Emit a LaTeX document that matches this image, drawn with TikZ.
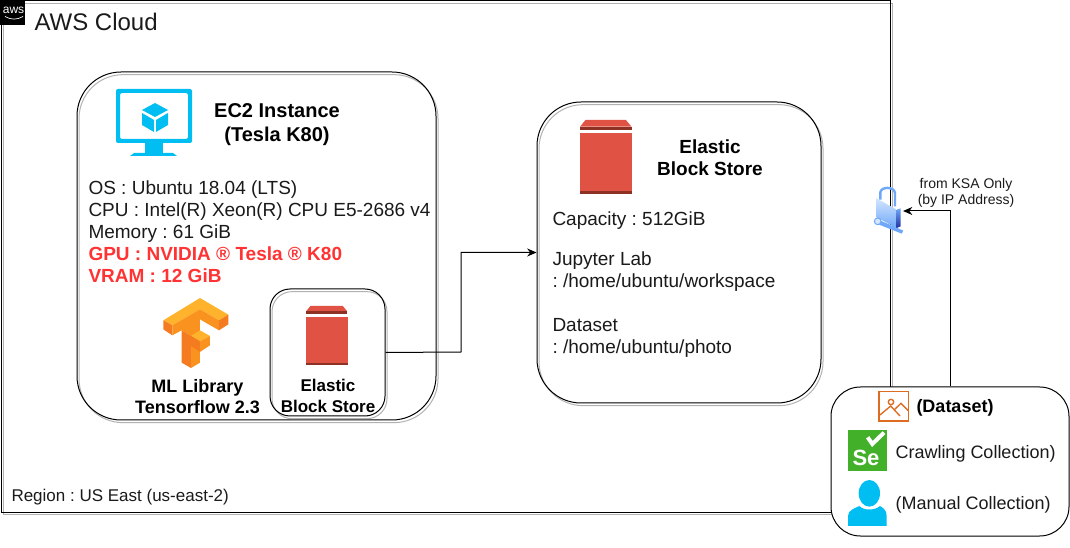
\documentclass[tikz,border=0pt]{standalone}
\usepackage{fontspec}
\setmainfont{Liberation Sans}
\usetikzlibrary{shadows,arrows.meta}
\frenchspacing

\definecolor{azureblue}{HTML}{00BEF2}
\definecolor{ebsred}{HTML}{E05243}
\definecolor{ebsdark}{HTML}{8C3123}
\definecolor{alertred}{HTML}{FF3333}
\definecolor{tflight}{HTML}{FFB32C}
\definecolor{tfmid}{HTML}{F9921F}
\definecolor{tfdark}{HTML}{F47B20}
\definecolor{segreen}{HTML}{43B02A}
\definecolor{imgorange}{HTML}{DD6B20}
\definecolor{textgray}{HTML}{1A1A1A}
\definecolor{locklight}{HTML}{D4E6FF}
\definecolor{lockmid}{HTML}{6FA8F8}
\definecolor{lockdark}{HTML}{2030A0}

\tikzset{every picture/.style={line width=0.75pt}}
\tikzset{
	panel/.style={draw=black, rounded corners=#1, copy shadow={shadow xshift=1.5pt, shadow yshift=-2pt, draw=black!30, fill=none}},
	panel/.default=33pt,
	spec/.style={anchor=west, align=left, text=textgray, font=\fontsize{14.25}{16.5}\selectfont},
	head/.style={align=center, font=\bfseries\fontsize{14.25}{16.5}\selectfont},
	conn/.style={draw=black, -{Stealth[length=7pt,width=6pt]}}
}
\newcommand{\ebsicon}[2]{%
	\begin{scope}[shift={(#1)},scale=#2]
		\fill [ebsred] (0,6.7) -- (5.5,0) -- (46,0) -- (51.5,6.7) -- cycle;
		\fill [ebsdark] (0,6.7) rectangle (51.5,10);
		\fill [ebsred] (-0.5,13.3) rectangle (52,70.7);
		\fill [ebsdark] (-0.5,70.7) rectangle (52,74);
	\end{scope}}

\begin{document}
\begin{tikzpicture}[x=0.75pt,y=0.75pt,yscale=-1,xscale=1]
	\useasboundingbox (0,0) rectangle (1070,548);

	% Boxes
	\node (cloud) [panel=0pt, minimum width=666.75pt, minimum height=383.25pt] at (445.5,256.5) {};
	\node (ec2box) [panel, minimum width=269.25pt, minimum height=261pt] at (256.5,246) {};
	\node (mainstore) [panel, minimum width=213pt, minimum height=225.75pt] at (679,252.5) {};
	\node (smallstore) [panel=15pt, minimum width=86.25pt, minimum height=95.25pt] at (327.5,352.5) {};
	\node (dataset) [draw=black, fill=white, rounded corners=22pt, minimum width=178.5pt, minimum height=111.75pt] at (950,461.5) {};

	% AWS badge
	\fill [black] (0,0) rectangle (25,25);
	\node (awstag) [text=white, inner sep=0pt, font=\fontsize{9}{9}\selectfont] at (13.5,10) {aws};
	\draw [white, line width=0.5pt] (5,16.5) .. controls (11,20) and (17,20) .. (23,16.5);

	% Monitor
	\fill [azureblue, rounded corners=1.5pt, even odd rule] (116,89) rectangle (192,143) (120,93) rectangle (188,139);
	\fill [azureblue] (145,143) rectangle (163,153);
	\fill [azureblue] (130,156) -- (134,153) -- (173,153) -- (177,156) -- cycle;
	\fill [azureblue] (155,103) -- (168,110) -- (155,117) -- (142,110) -- cycle;
	\fill [azureblue] (142,113) -- (154,120) -- (154,132) -- (142,125) -- cycle;
	\fill [azureblue] (168,113) -- (156,120) -- (156,132) -- (168,125) -- cycle;

	% Tensorflow logo
	\begin{scope}[shift={(155,292)},scale=0.3333]
		\fill [tflight] (25,85) -- (135,18) -- (220,68) -- (192,85) -- (135,52) -- (52,100) -- cycle;
		\fill [tfdark] (25,85) -- (52,100) -- (52,130) -- (25,112) -- cycle;
		\fill [tfmid] (52,100) -- (135,52) -- (135,212) -- (108,228) -- (108,132) -- (80,115) -- (52,130) -- cycle;
		\fill [tfmid] (135,52) -- (192,85) -- (192,115) -- (135,82) -- cycle;
		\fill [tfdark] (192,85) -- (220,68) -- (220,97) -- (192,115) -- cycle;
		\fill [tfdark] (80,115) -- (108,132) -- (108,228) -- (80,212) -- cycle;
		\fill [tflight] (108,132) -- (135,115) -- (165,132) -- (135,148) -- cycle;
		\fill [tfdark] (108,132) -- (135,148) -- (135,180) -- (108,162) -- cycle;
		\fill [tfmid] (135,148) -- (165,132) -- (165,160) -- (135,180) -- cycle;
	\end{scope}

	% Block store icons
	\ebsicon{580,120}{1}
	\ebsicon{306,306}{0.8}

	% Lock
	\begin{scope}[shift={(865,183)},scale=0.3333]
		\draw [line width=1.8pt, color=lockmid] (46,50) -- (46,28) .. controls (48,10) and (88,10) .. (90,30) -- (90,70);
		\shade [top color=locklight, bottom color=lockmid] (33,45) -- (95,80) -- (95,135) -- (33,102) -- cycle;
		\shade [top color=lockmid, bottom color=lockdark] (95,80) -- (107,76) -- (107,130) -- (95,135) -- cycle;
		\fill [lockmid] (40,110) -- (115,143) -- (110,152) -- (35,122) -- cycle;
		\filldraw [fill=locklight, draw=lockmid] (38,115) circle (10);
	\end{scope}
	\coordinate (lock) at (903,211);

	% Dataset icons
	\begin{scope}[shift={(825,380)},scale=0.3333]
		\draw [imgorange, line width=1pt] (162,35) rectangle (250,123);
		\draw [imgorange, line width=1pt] (198,66) circle (8);
		\draw [imgorange, line width=1pt] (165,105) -- (197,78) -- (225,108);
		\draw [imgorange, line width=1pt] (207,90) -- (228,70) -- (250,92);
		\fill [segreen] (69,150) rectangle (185,272);
		\draw [white, line width=3pt] (128,172) -- (142,192) -- (177,158);
		\fill [azureblue] (133,340) ellipse (32 and 40);
		\fill [azureblue] (69,438) -- (69,408) .. controls (69,390) and (90,385) .. (103,378) .. controls (115,392) and (150,392) .. (165,378) .. controls (175,385) and (185,390) .. (185,408) -- (185,438) -- cycle;
	\end{scope}
	\node (selabel) [text=white, inner sep=0pt, font=\bfseries\fontsize{16.5}{16.5}\selectfont] at (866,458) {Se};

	% Connectors
	\draw [conn] (smallstore.east) -- (461,352) |- (mainstore.west);
	\draw [conn] (dataset.north) |- (lock);

	% Labels
	\node (cloudtitle) [anchor=west, inner sep=0pt, text=textgray, font=\fontsize{18}{20}\selectfont] at (34,22) {AWS Cloud};
	\node (region) [anchor=west, inner sep=0pt, text=textgray, font=\fontsize{12.75}{15}\selectfont] at (11,497) {Region : US East (us-east-2)};
	\node (ec2title) [head, font=\bfseries\fontsize{15}{18}\selectfont] at (277,124.5) {EC2 Instance\\(Tesla K80)};
	\node (ec2spec) [spec, inner sep=0pt] at (88,231.5) {OS : Ubuntu 18.04 (LTS)\\CPU : Intel(R) Xeon(R) CPU E5-2686 v4\\Memory : 61 GiB\\{\color{alertred}\bfseries GPU : NVIDIA ® Tesla ® K80}\\{\color{alertred}\bfseries VRAM : 12 GiB}};
	\node (mllabel) [head, font=\bfseries\fontsize{13.5}{15.75}\selectfont] at (197.5,396.5) {ML Library\\Tensorflow 2.3};
	\node (smalllabel) [head, font=\bfseries\fontsize{12.75}{15.75}\selectfont] at (328,396) {Elastic\\Block Store};
	\node (storetitle) [head] at (710,158) {Elastic\\Block Store};
	\node (capacity) [spec, inner sep=0pt] at (552,221) {Capacity : 512GiB};
	\node (jupyter) [spec, inner sep=0pt] at (552,271.5) {Jupyter Lab\\: /home/ubuntu/workspace};
	\node (photo) [spec, inner sep=0pt] at (552,337.5) {Dataset\\: /home/ubuntu/photo};
	\node (kstext) [align=center, text=textgray, font=\fontsize{10.5}{12}\selectfont] at (966,192.5) {from KSA Only\\(by IP Address)};
	\node (dstitle) [head, font=\bfseries\fontsize{13.5}{15}\selectfont] at (955,407.5) {(Dataset)};
	\node (crawl) [anchor=west, inner sep=0pt, text=textgray, font=\fontsize{13.5}{15}\selectfont] at (895,453.5) {Crawling Collection)};
	\node (manual) [anchor=west, inner sep=0pt, text=textgray, font=\fontsize{13.5}{15}\selectfont] at (895,504.5) {(Manual Collection)};

\end{tikzpicture}
\end{document}
